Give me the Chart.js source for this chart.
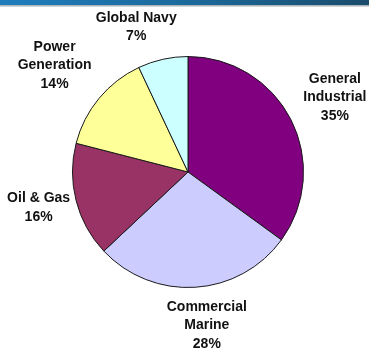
<!DOCTYPE html>
<html>
<head>
<meta charset="utf-8">
<script src="https://cdn.jsdelivr.net/npm/chart.js@4"></script>
<style>
  html, body { margin: 0; padding: 0; background: #fff; }
  #bar { position: absolute; left: 0; top: 0; width: 369px; height: 5px;
         background: linear-gradient(to right, #1f7dbd, #1b6a9c 50%, #1a4c6c); }
  #bar2 { position: absolute; left: 0; top: 5px; width: 369px; height: 2px;
          background: linear-gradient(to bottom, #9aa4ab, #e4e7e9); }
  #wrap { position: absolute; left: 0; top: 0; width: 369px; height: 354px; }
</style>
</head>
<body>
<div id="bar"></div>
<div id="bar2"></div>
<div id="wrap"><canvas id="myChart" width="369" height="354"></canvas></div>
<script>
// Kategorien und Anteile (Prozent)
const categories = [
    ['General', 'Industrial'],
    ['Commercial', 'Marine'],
    ['Oil & Gas'],
    ['Power', 'Generation'],
    ['Global Navy']
];
const shares = [35, 28, 16, 14, 7];
const sliceColors = ['#800080', '#ccccff', '#993366', '#ffff99', '#ccffff'];

// Beschriftung ausserhalb des Kreises
const outsideLabels = {
    id: 'outsideLabels',
    afterDatasetsDraw(chart, args, opts) {
        const ctx = chart.ctx;
        const arcs = chart.getDatasetMeta(0).data;
        ctx.save();
        ctx.font = 'bold 14px "Liberation Sans", Arial, sans-serif';
        ctx.fillStyle = '#111';
        ctx.textAlign = 'center';
        ctx.textBaseline = 'middle';
        arcs.forEach((arc, i) => {
            const p = arc.getProps(['x', 'y', 'startAngle', 'endAngle', 'outerRadius'], true);
            const mid = (p.startAngle + p.endAngle) / 2 + opts.nudge[i] * Math.PI / 180;
            const d = p.outerRadius * opts.dist[i];
            const cx = p.x + Math.cos(mid) * d;
            const cy = p.y + Math.sin(mid) * d;
            const lines = chart.data.labels[i].concat([chart.data.datasets[0].data[i] + '%']);
            const lh = 18.5;
            lines.forEach((t, j) => {
                ctx.fillText(t, cx, cy + (j - (lines.length - 1) / 2) * lh);
            });
        });
        ctx.restore();
    }
};

const ctx = document.getElementById('myChart').getContext('2d');
new Chart(ctx, {
    type: 'pie',
    data: {
        labels: categories,
        datasets: [{
            data: shares,
            backgroundColor: sliceColors,
            borderColor: '#1a1a1a',
            borderWidth: 1
        }]
    },
    options: {
        responsive: false,
        animation: false,
        layout: { padding: { left: 72, right: 65, top: 56, bottom: 66 } },
        plugins: {
            legend: { display: false },
            tooltip: { enabled: false },
            outsideLabels: {
                dist: [1.427, 1.338, 1.33, 1.478, 1.33],
                nudge: [0, -3.4, 0.9, -1, -7.1]
            }
        }
    },
    plugins: [outsideLabels]
});
</script>
</body>
</html>
